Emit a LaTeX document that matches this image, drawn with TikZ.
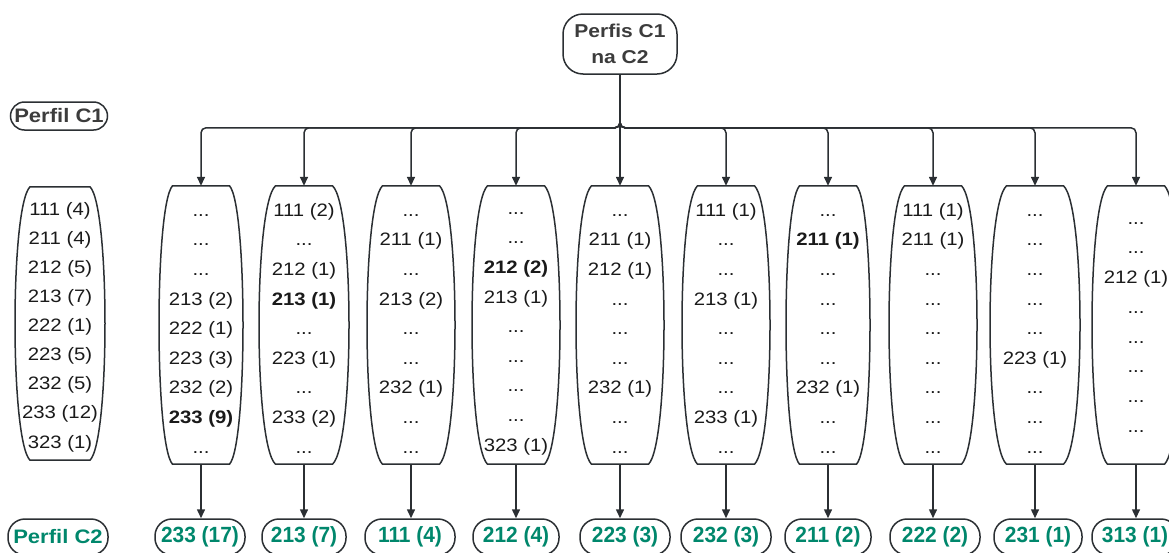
\documentclass[tikz,border=0pt]{standalone}
\usepackage{fontspec}
\setmainfont{Liberation Sans}[FakeStretch=1.13]
\newfontfamily\condfont{Liberation Sans}[FakeStretch=0.95]
\usetikzlibrary{calc,arrows.meta}
\definecolor{ln}{HTML}{2B2F33}
\definecolor{tx}{HTML}{1A1A1A}
\definecolor{grn}{HTML}{00876C}
\newcommand\tstrut{\rule{0pt}{16pt}}
\newcommand\barrelshape[3]{%
  \draw[boxline] ($(#1.north)+(-#2,0)$) -- ($(#1.north)+(#2,0)$)
    .. controls ($(#1.north)+(#3,20)$) and ($(#1.south)+(#3,-20)$) .. ($(#1.south)+(#2,0)$)
    -- ($(#1.south)+(-#2,0)$)
    .. controls ($(#1.south)+(-#3,-20)$) and ($(#1.north)+(-#3,20)$) .. cycle;}
\tikzset{
  boxline/.style={draw=ln,line width=1.5pt},
  colnode/.style={draw=none,inner sep=0pt,minimum width=84pt,minimum height=278pt},
  coltext/.style={anchor=north,inner sep=0pt,align=center,text=tx,
    font=\fontsize{18}{29.6}\selectfont},
  pill/.style={draw=ln,line width=1.5pt,rounded corners=17pt,minimum width=88pt,
    minimum height=36pt,inner sep=0pt,text=grn,font=\condfont\fontsize{22}{24}\selectfont\bfseries},
  lbl/.style={draw=ln,line width=1.5pt,rounded corners=14pt,minimum width=97pt,
    minimum height=28pt,inner sep=0pt,text=tx!85,font=\fontsize{19.5}{24}\selectfont\bfseries},
  topnode/.style={draw=ln,line width=1.5pt,rounded corners=20pt,minimum width=114pt,
    minimum height=60pt,inner sep=0pt,align=center,text=tx!85,
    font=\fontsize{18.6}{26}\selectfont\bfseries},
  conn/.style={draw=ln,line width=1.5pt,rounded corners=5pt,-{Triangle[length=9pt,width=8pt]}},
  arr/.style={draw=ln,line width=1.5pt,-{Triangle[length=9pt,width=8pt]}}
}
\begin{document}
\begin{tikzpicture}[x=1pt,y=-1pt]
\useasboundingbox (0,0) rectangle (1169,552);
% top node and side labels
\node[topnode] (top) at (620,44) {Perfis C1\\na C2};
\node[lbl] (p1) at (59,116) {Perfil C1};
\node[lbl,text=grn,minimum width=100pt,minimum height=36pt,rounded corners=17pt] (p2) at (58,537) {Perfil C2};
% left list
\node[colnode,minimum width=90pt,minimum height=273pt] (l0) at (60,323.5) {};
\barrelshape{l0}{30}{50}
\node[coltext,font=\fontsize{18}{29.1}\selectfont] (lt) at (60,199) {\tstrut 111 (4)\\211 (4)\\212 (5)\\213 (7)\\222 (1)\\223 (5)\\232 (5)\\233 (12)\\323 (1)};
% columns
\foreach \c/\x/\w in {c1/201/42,c2/304/45,c3/411/44,c4/516/44,c5/620/44,c6/726/44,c7/828/42,c8/933/44,c9/1035/45,c10/1136/44}{
  \node[colnode] (\c) at (\x,325) {};
  \pgfmathsetmacro\cc{(\w-0.25*28.5)/0.75}
  \barrelshape{\c}{28.5}{\cc}
}
\node[coltext] (t1) at (201,200) {\tstrut ...\\...\\...\\213 (2)\\222 (1)\\223 (3)\\232 (2)\\\textbf{233 (9)}\\...};
\node[coltext] (t2) at (304,200) {\tstrut 111 (2)\\...\\212 (1)\\\textbf{213 (1)}\\...\\223 (1)\\...\\233 (2)\\...};
\node[coltext] (t3) at (411,200) {\tstrut ...\\211 (1)\\...\\213 (2)\\...\\...\\232 (1)\\...\\...};
\node[coltext] (t4) at (516,198) {\tstrut ...\\...\\\textbf{212 (2)}\\213 (1)\\...\\...\\...\\...\\323 (1)};
\node[coltext] (t5) at (620,200) {\tstrut ...\\211 (1)\\212 (1)\\...\\...\\...\\232 (1)\\...\\...};
\node[coltext] (t6) at (726,200) {\tstrut 111 (1)\\...\\...\\213 (1)\\...\\...\\...\\233 (1)\\...};
\node[coltext] (t7) at (828,200) {\tstrut ...\\\textbf{211 (1)}\\...\\...\\...\\...\\232 (1)\\...\\...};
\node[coltext] (t8) at (933,200) {\tstrut 111 (1)\\211 (1)\\...\\...\\...\\...\\...\\...\\...};
\node[coltext] (t9) at (1035,200) {\tstrut ...\\...\\...\\...\\...\\223 (1)\\...\\...\\...};
\node[coltext,font=\fontsize{18}{29.7}\selectfont] (t10) at (1136,208) {\tstrut ...\\...\\212 (1)\\...\\...\\...\\...\\...};
% bottom pills
\node[pill,minimum width=90pt] (b1) at (200,537) {233 (17)};
\node[pill,minimum width=84pt] (b2) at (304,537) {213 (7)};
\node[pill,minimum width=90pt] (b3) at (410,537) {111 (4)};
\node[pill,minimum width=86pt] (b4) at (516,537) {212 (4)};
\node[pill,minimum width=90pt] (b5) at (625,537) {223 (3)};
\node[pill,minimum width=90pt] (b6) at (726,537) {232 (3)};
\node[pill,minimum width=86pt] (b7) at (828,537) {211 (2)};
\node[pill,minimum width=90pt] (b8) at (935,537) {222 (2)};
\node[pill,minimum width=88pt] (b9) at (1038,537) {231 (1)};
\node[pill,minimum width=86pt] (b10) at (1135,537) {313 (1)};
% connectors
\foreach \i in {1,...,10}{
  \draw[conn] (top.south) |- ($(c\i.north)+(0,-58)$) -- (c\i.north);
  \draw[arr] (c\i.south) -- (c\i.south |- b\i.north);
}
\end{tikzpicture}
\end{document}
